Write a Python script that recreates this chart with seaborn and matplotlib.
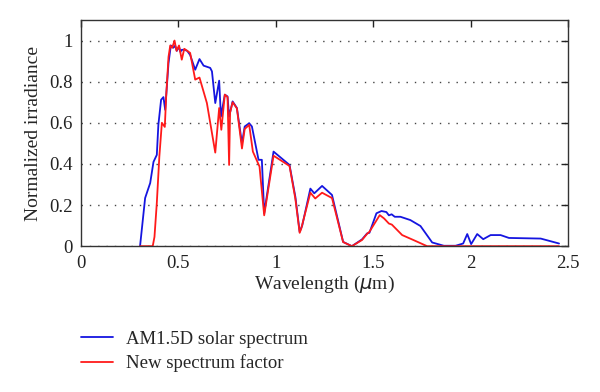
import numpy as np
import pandas as pd
import seaborn as sns
import matplotlib.pyplot as plt

# Espectro AM1.5D (azul)
wl_am15 = [0.303, 0.329, 0.34, 0.355, 0.372, 0.389, 0.397, 0.411, 0.423, 0.432,
           0.449, 0.461, 0.468, 0.474, 0.483, 0.492, 0.503, 0.51, 0.517, 0.53,
           0.545, 0.56, 0.586, 0.608, 0.629, 0.663, 0.672, 0.689, 0.709, 0.718,
           0.738, 0.752, 0.76, 0.778, 0.8, 0.826, 0.84, 0.863, 0.877, 0.911,
           0.928, 0.94, 0.988, 1.07, 1.1, 1.122, 1.135, 1.177, 1.197, 1.237,
           1.288, 1.345, 1.39, 1.442, 1.468, 1.48, 1.516, 1.542, 1.567, 1.58,
           1.594, 1.61, 1.639, 1.69, 1.742, 1.802, 1.862, 1.922, 1.961, 1.982,
           2.002, 2.033, 2.064, 2.102, 2.153, 2.196, 2.359, 2.453]
irr_am15 = [0.0, 0.234, 0.265, 0.307, 0.41, 0.444, 0.59, 0.712, 0.725, 0.663,
            0.89, 0.976, 0.97, 0.965, 0.975, 0.95, 0.97, 0.945, 0.955, 0.955,
            0.95, 0.93, 0.858, 0.91, 0.878, 0.867, 0.85, 0.696, 0.805, 0.63,
            0.737, 0.728, 0.63, 0.704, 0.672, 0.5, 0.582, 0.598, 0.582, 0.42,
            0.42, 0.16, 0.46, 0.395, 0.24, 0.07, 0.1, 0.28, 0.257, 0.293,
            0.249, 0.021, 0.0, 0.033, 0.062, 0.065, 0.16, 0.171, 0.166, 0.15,
            0.155, 0.143, 0.143, 0.127, 0.098, 0.018, 0.002, 0.002, 0.013, 0.059,
            0.01, 0.059, 0.034, 0.054, 0.054, 0.04, 0.037, 0.013]

# Novo fator de espectro (vermelho)
wl_novo = [0.303, 0.368, 0.377, 0.389, 0.402, 0.415, 0.43, 0.437, 0.449, 0.458,
           0.468, 0.48, 0.49, 0.503, 0.517, 0.53, 0.56, 0.586, 0.608, 0.646,
           0.689, 0.709, 0.72, 0.738, 0.752, 0.76, 0.765, 0.778, 0.8, 0.826,
           0.84, 0.863, 0.882, 0.916, 0.94, 0.988, 1.07, 1.1, 1.122, 1.13,
           1.177, 1.202, 1.237, 1.288, 1.345, 1.39, 1.442, 1.468, 1.48, 1.533,
           1.555, 1.58, 1.595, 1.648, 1.708, 1.776, 2.0, 2.453]
irr_novo = [0.0, 0.0, 0.045, 0.21, 0.436, 0.6, 0.58, 0.728, 0.92, 0.976,
            0.965, 1.0, 0.95, 0.976, 0.907, 0.96, 0.94, 0.81, 0.82, 0.696,
            0.455, 0.672, 0.566, 0.737, 0.725, 0.395, 0.65, 0.70, 0.67, 0.475,
            0.57, 0.59, 0.46, 0.387, 0.15, 0.44, 0.39, 0.23, 0.065, 0.085,
            0.26, 0.232, 0.26, 0.234, 0.02, 0.0, 0.03, 0.06, 0.07, 0.151,
            0.135, 0.11, 0.105, 0.054, 0.029, 0.0, 0.0, 0.0]

nomes = ["AM1.5D solar spectrum", "New spectrum factor"]
cores = ["#1515e0", "#ff1a1a"]


def grafico_espectro():
    sns.set_theme(style="white")
    plt.rcParams['font.family'] = ['Liberation Serif', 'DejaVu Serif']

    fig = plt.figure(figsize=(6, 3.92), dpi=100)
    ax = fig.add_axes([0.135, 0.372, 0.812, 0.577])

    sns.lineplot(x=wl_am15, y=irr_am15, ax=ax, color=cores[0], lw=1.3,
                 label=nomes[0], legend=False)
    sns.lineplot(x=wl_novo, y=irr_novo, ax=ax, color=cores[1], lw=1.3,
                 label=nomes[1], legend=False)

    ax.set_xlim(0, 2.5)
    ax.set_ylim(0, 1.1)
    ax.set_xticks([0, 0.5, 1, 1.5, 2, 2.5])
    ax.set_xticklabels(["0", "0.5", "1", "1.5", "2", "2.5"])
    ax.set_yticks([0, 0.2, 0.4, 0.6, 0.8, 1])
    ax.set_yticklabels(["0", "0.2", "0.4", "0.6", "0.8", "1"])
    ax.yaxis.grid(True, linestyle=(0, (1, 5)), color="#444444", lw=1)
    ax.xaxis.grid(False)
    ax.tick_params(direction="in", length=5, width=1, top=True, right=True,
                   labelsize=13.5, colors="#222222")
    ax.tick_params(axis="x", pad=6)
    ax.tick_params(axis="y", pad=6)
    for s in ax.spines.values():
        s.set_color("#333333")
        s.set_linewidth(1)

    ax.set_xlabel("Wavelength ($\\mu$m)", fontsize=14, labelpad=2)
    ax.set_ylabel("Normalized irradiance", fontsize=14, labelpad=5)

    fig.legend(loc="upper left", bbox_to_anchor=(0.123, 0.175), frameon=False,
               fontsize=13.5, handlelength=1.7, handletextpad=0.7,
               labelspacing=0.35, borderaxespad=0)

    plt.savefig("out.png", dpi=100)
    plt.close()


if __name__ == '__main__':
    grafico_espectro()
